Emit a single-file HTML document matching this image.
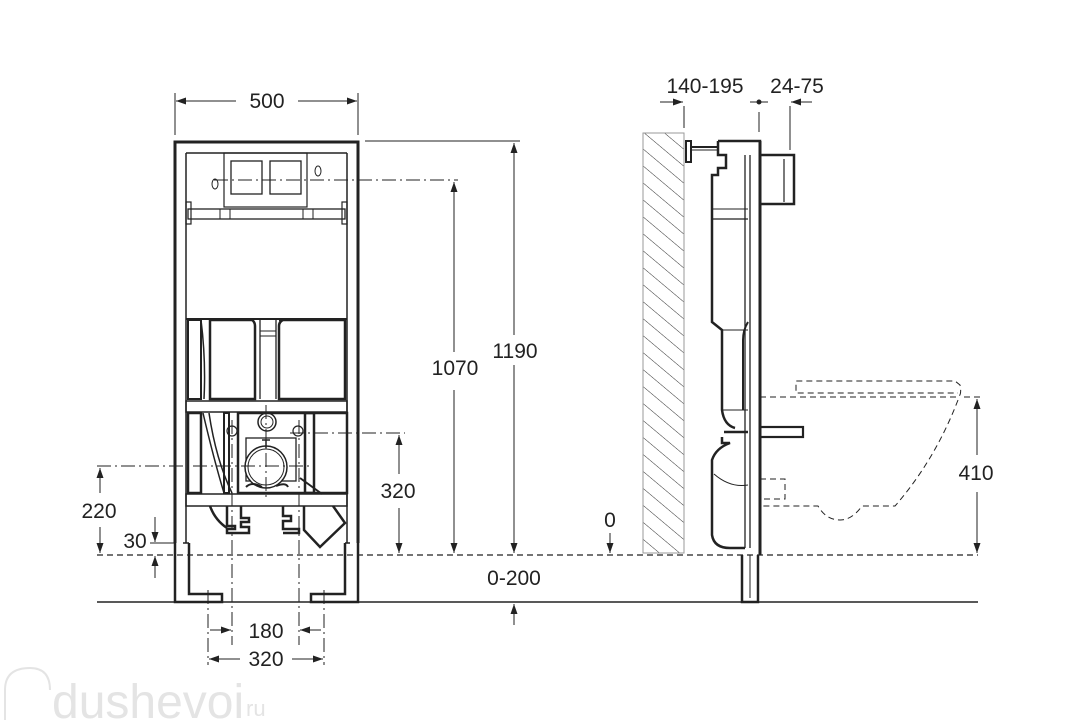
<!DOCTYPE html>
<html><head><meta charset="utf-8"><style>
html,body{margin:0;padding:0;background:#fff;}
svg{display:block;}
text{font-family:"Liberation Sans",Arial,sans-serif;font-size:21px;fill:#222;}
</style></head><body>
<svg width="1087" height="721" viewBox="0 0 1087 721" xmlns="http://www.w3.org/2000/svg">
<defs>
<marker id="a" viewBox="0 0 10 10" refX="10" refY="5" markerWidth="10" markerHeight="10" orient="auto-start-reverse" markerUnits="userSpaceOnUse"><path d="M0,1.5 L10,5 L0,8.5 Z" fill="#222"/></marker>
<pattern id="h" width="13" height="13" patternUnits="userSpaceOnUse" patternTransform="rotate(-50)"><line x1="0" y1="0" x2="0" y2="13" stroke="#333" stroke-width="1"/></pattern>
</defs>
<g fill="none" stroke="#222">
<line x1="97" y1="555" x2="978" y2="555" stroke-dasharray="6,4" stroke-width="1.2"/>
<line x1="97" y1="602" x2="978" y2="602" stroke-width="1.4"/>

<!-- FRONT FRAME -->
<path d="M175,543 V142 H358 V543" stroke-width="3"/>
<line x1="186" y1="153" x2="347" y2="153" stroke-width="1.5"/>
<line x1="186" y1="153" x2="186" y2="543" stroke-width="1.5"/>
<line x1="347" y1="153" x2="347" y2="543" stroke-width="1.5"/>
<path d="M175,543 V602 H222 V594 H189 V543" stroke-width="2.5"/>
<path d="M358,543 V602 H311 V594 H345 V543" stroke-width="2.5"/>
<path d="M183,543 H189 M345,543 H350" stroke-width="1.5"/>
<rect x="224" y="153" width="83" height="54" stroke-width="1.2"/>
<rect x="231" y="161" width="31" height="33" stroke-width="1.3"/>
<rect x="270" y="161" width="31" height="33" stroke-width="1.3"/>
<ellipse cx="215" cy="184" rx="3" ry="5" stroke-width="1"/>
<ellipse cx="318" cy="171" rx="3" ry="5" stroke-width="1"/>
<rect x="188" y="209" width="157" height="10" stroke-width="1.3"/>
<rect x="186" y="202" width="5" height="22" stroke-width="1.2"/>
<rect x="342" y="202" width="5" height="22" stroke-width="1.2"/>
<line x1="220" y1="209" x2="220" y2="219"/><line x1="230" y1="209" x2="230" y2="219"/>
<line x1="303" y1="209" x2="303" y2="219"/><line x1="313" y1="209" x2="313" y2="219"/>
<path d="M186,319 H347" stroke-width="2"/>
<rect x="188" y="320" width="13" height="79" stroke-width="2"/>
<path d="M201,320 Q206,360 204,399" stroke-width="1.5"/>
<path d="M210,320 H252 Q255,322 255,326 V399 H210 Z" stroke-width="2.5"/>
<path d="M279,320 H345 V399 H279 V326 Q279,322 283,320" stroke-width="2.5"/>
<line x1="260" y1="320" x2="260" y2="399" stroke-width="1.3"/>
<line x1="276" y1="320" x2="276" y2="399" stroke-width="1.3"/>
<line x1="260" y1="331" x2="276" y2="331"/><line x1="260" y1="336" x2="276" y2="336"/>
<rect x="186" y="401" width="161" height="11" stroke-width="1.5"/>
<rect x="188" y="413" width="13" height="80" stroke-width="2.5"/>
<path d="M203,413 Q214,460 224,493" stroke-width="1.5"/>
<path d="M209,413 Q216,460 232,493" stroke-width="1.5"/>
<rect x="224" y="413" width="5" height="80" stroke-width="2"/>
<path d="M238,413 H314 V493 H238 Z" stroke-width="2.5"/>
<rect x="305" y="413" width="42" height="80" stroke-width="2.5"/>
<circle cx="267" cy="422" r="9" stroke-width="1.5"/><circle cx="267" cy="422" r="6" stroke-width="1"/>
<circle cx="232" cy="431" r="5" stroke-width="1.2"/><circle cx="298" cy="431" r="5" stroke-width="1.2"/>
<rect x="246" y="438" width="50" height="43" fill="#fff" stroke-width="1.3"/>
<circle cx="266" cy="467" r="21" fill="#fff" stroke-width="1.5"/><circle cx="266" cy="467" r="18" stroke-width="1"/>
<path d="M262,440 H270 M266,440 V448" stroke-width="1.5"/>
<path d="M246,487 Q252,481 262,487 M276,486 Q286,482 288,487 M300,478 L322,494" stroke-width="2"/>
<rect x="186" y="494" width="161" height="12" stroke-width="1.5"/>
<path d="M210,506 Q215,520 227,528 M227,506 V526 H235 V529 H227 V533 H249 V527 H241 V522 H249 V518 H241 V506" stroke-width="2.5"/>
<path d="M283,506 V516 H291 V521 H283 V529 H299 V533 H283 M304,506 V530 L320,547 L345,523 L333,506" stroke-width="2.5"/>

<g stroke-width="1" stroke-dasharray="14,4,2,4">
<line x1="214" y1="180" x2="458" y2="180"/>
<line x1="232" y1="420" x2="232" y2="645"/>
<line x1="299" y1="420" x2="299" y2="645"/>
<line x1="208" y1="590" x2="208" y2="665"/>
<line x1="324" y1="590" x2="324" y2="665"/>
<line x1="266" y1="405" x2="266" y2="500"/>
<line x1="290" y1="433" x2="405" y2="433"/>
<line x1="97" y1="466" x2="310" y2="466"/>
</g>
<line x1="365" y1="141" x2="520" y2="141" stroke-width="1"/>
<line x1="150" y1="543" x2="176" y2="543" stroke-width="1"/>

<line x1="175" y1="93" x2="175" y2="135" stroke-width="1"/>
<line x1="358" y1="93" x2="358" y2="135" stroke-width="1"/>
<line x1="236" y1="101" x2="176" y2="101" stroke-width="1" marker-end="url(#a)"/>
<line x1="298" y1="101" x2="357" y2="101" stroke-width="1" marker-end="url(#a)"/>
<line x1="514" y1="335" x2="514" y2="143" stroke-width="1" marker-end="url(#a)"/>
<line x1="514" y1="365" x2="514" y2="553" stroke-width="1" marker-end="url(#a)"/>
<line x1="454" y1="352" x2="454" y2="182" stroke-width="1" marker-end="url(#a)"/>
<line x1="454" y1="390" x2="454" y2="553" stroke-width="1" marker-end="url(#a)"/>
<line x1="399" y1="474" x2="399" y2="435" stroke-width="1" marker-end="url(#a)"/>
<line x1="399" y1="508" x2="399" y2="553" stroke-width="1" marker-end="url(#a)"/>
<line x1="100" y1="493" x2="100" y2="468" stroke-width="1" marker-end="url(#a)"/>
<line x1="100" y1="527" x2="100" y2="553" stroke-width="1" marker-end="url(#a)"/>
<line x1="155" y1="517" x2="155" y2="542" stroke-width="1" marker-end="url(#a)"/>
<line x1="155" y1="578" x2="155" y2="556" stroke-width="1" marker-end="url(#a)"/>
<line x1="514" y1="625" x2="514" y2="604" stroke-width="1" marker-end="url(#a)"/>
<line x1="610" y1="533" x2="610" y2="553" stroke-width="1" marker-end="url(#a)"/>
<line x1="210" y1="630" x2="231" y2="630" stroke-width="1" marker-end="url(#a)"/>
<line x1="321" y1="630" x2="300" y2="630" stroke-width="1" marker-end="url(#a)"/>
<line x1="240" y1="659" x2="209" y2="659" stroke-width="1" marker-end="url(#a)"/>
<line x1="292" y1="659" x2="323" y2="659" stroke-width="1" marker-end="url(#a)"/>

<!-- SIDE VIEW -->
<rect x="643" y="133" width="41" height="420" fill="url(#h)" stroke="#999" stroke-width="1"/>
<rect x="686" y="141" width="5" height="21" stroke-width="2"/>
<line x1="691" y1="147" x2="718" y2="147" stroke-width="2"/>
<line x1="691" y1="150" x2="718" y2="150" stroke-width="1"/>
<path d="M718,141 H760 V155 H794 V204 H760" stroke-width="2.5"/>
<path d="M718,141 V155 H726 V168 H718 V175 H712 V322 L722,330 V410 Q724,425 735,428" stroke-width="2.5"/>
<line x1="745" y1="155" x2="745" y2="548" stroke-width="1.3"/>
<line x1="750" y1="155" x2="750" y2="548" stroke-width="1.3"/>
<path d="M760,141 V555" stroke-width="3"/>
<line x1="712" y1="209" x2="748" y2="209" stroke-width="1"/>
<line x1="712" y1="219" x2="748" y2="219" stroke-width="1.3"/>
<line x1="722" y1="330" x2="748" y2="330"/>
<line x1="722" y1="410" x2="748" y2="410"/>
<path d="M748,322 Q743,330 743,340 V410" stroke-width="2"/>
<path d="M724,432 H748 M722,437 V443 H730 Q716,448 712,460 V535 Q714,548 730,548 H745" stroke-width="2.5"/>
<path d="M748,485 Q730,488 714,474" stroke-width="1"/>
<path d="M742,555 V602 H758 V555" stroke-width="2.5"/>
<line x1="750" y1="555" x2="750" y2="598" stroke-width="1"/>
<rect x="760" y="427" width="43" height="10" stroke-width="2.2"/>
<line x1="784" y1="159" x2="784" y2="202" stroke-width="1.2"/>
<g stroke-width="1" stroke-dasharray="6,4">
<path d="M760,397 H958 Q962,395 960,385 L955,381 H796 V393 H958"/>
<path d="M958,400 Q935,460 895,506 H862 Q852,520 840,520 Q826,520 818,506 H760"/>
<path d="M760,479 H785 V499 H760"/>
<line x1="964" y1="397" x2="982" y2="397"/>
</g>
<line x1="684" y1="106" x2="684" y2="128" stroke-width="1"/>
<line x1="759" y1="112" x2="759" y2="132" stroke-width="1"/>
<line x1="790" y1="106" x2="790" y2="150" stroke-width="1"/>
<line x1="660" y1="102" x2="683" y2="102" stroke-width="1" marker-end="url(#a)"/>
<line x1="750" y1="102" x2="768" y2="102" stroke-width="1"/>
<circle cx="759" cy="102" r="2" fill="#222"/>
<line x1="812" y1="102" x2="791" y2="102" stroke-width="1" marker-end="url(#a)"/>
<line x1="977" y1="455" x2="977" y2="399" stroke-width="1" marker-end="url(#a)"/>
<line x1="977" y1="492" x2="977" y2="553" stroke-width="1" marker-end="url(#a)"/>
</g>

<text x="267" y="108" text-anchor="middle">500</text>
<text x="455" y="375" text-anchor="middle">1070</text>
<text x="515" y="358" text-anchor="middle">1190</text>
<text x="398" y="498" text-anchor="middle">320</text>
<text x="99" y="518" text-anchor="middle">220</text>
<text x="135" y="548" text-anchor="middle">30</text>
<text x="514" y="585" text-anchor="middle">0-200</text>
<text x="610" y="527" text-anchor="middle">0</text>
<text x="266" y="638" text-anchor="middle">180</text>
<text x="266" y="666" text-anchor="middle">320</text>
<text x="705" y="93" text-anchor="middle">140-195</text>
<text x="797" y="93" text-anchor="middle">24-75</text>
<text x="976" y="480" text-anchor="middle">410</text>
<text x="52" y="718" style="font-size:48px;fill:#e4e4e4">dushevoi</text>
<text x="246" y="716" style="font-size:22px;fill:#e4e4e4">ru</text>
<path d="M5,720 V690 Q5,668 30,668 Q50,668 50,690" fill="none" stroke="#e4e4e4" stroke-width="2"/>
</svg>
</body></html>
